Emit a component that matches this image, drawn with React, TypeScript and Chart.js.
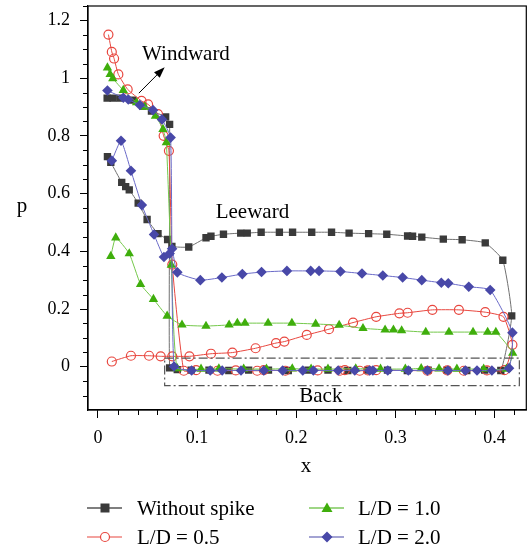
import React, { useEffect, useRef } from 'react';
import { Chart, registerables } from 'chart.js';

Chart.register(...registerables);

const FONT = '"Liberation Serif", "Times New Roman", serif';

const seriesNames = ['Without spike', 'L/D = 0.5', 'L/D = 1.0', 'L/D = 2.0'];
const xTicks = [0, 0.1, 0.2, 0.3, 0.4];
const yTicks = [0, 0.2, 0.4, 0.6, 0.8, 1.0, 1.2];

// Without spike: lower-left -> leeward -> back -> windward
const noSpikeX = [
  0.0096, 0.013, 0.024, 0.028, 0.0316, 0.0406, 0.0496, 0.0606, 0.0703, 0.0746,
  0.0916, 0.109, 0.114, 0.1266, 0.144, 0.1506, 0.1646, 0.183, 0.1963, 0.2156, 0.2356, 0.2533, 0.273, 0.2913, 0.3123, 0.3173, 0.3266, 0.3483, 0.3673, 0.3906, 0.4083, 0.4173,
  0.4063, 0.39, 0.372, 0.352, 0.333, 0.312, 0.292, 0.272, 0.252, 0.232, 0.212, 0.192, 0.172, 0.152, 0.132, 0.112, 0.094, 0.08,
  0.0723, 0.0723, 0.0683, 0.054, 0.0453, 0.0353, 0.0223, 0.0153, 0.0093,
];
const noSpikeP = [
  0.728, 0.708, 0.639, 0.624, 0.613, 0.567, 0.51, 0.461, 0.441, 0.417,
  0.415, 0.447, 0.452, 0.459, 0.463, 0.463, 0.466, 0.466, 0.466, 0.466, 0.466, 0.463, 0.461, 0.459, 0.453, 0.452, 0.449, 0.442, 0.44, 0.429, 0.369, 0.176,
  -0.013, -0.012, -0.013, -0.012, -0.012, -0.013, -0.012, -0.012, -0.013, -0.012, -0.012, -0.013, -0.012, -0.012, -0.013, -0.012, -0.012, -0.01,
  -0.004, 0.84, 0.866, 0.886, 0.903, 0.924, 0.931, 0.931, 0.931,
];

// L/D = 0.5: windward -> back -> leeward(low curve)
const ld05X = [
  0.0106, 0.014, 0.0163, 0.0206, 0.03, 0.044, 0.0506, 0.0606, 0.0663, 0.0716,
  0.075,
  0.0866, 0.099, 0.1206, 0.139, 0.1606, 0.1673, 0.189, 0.2216, 0.244, 0.249, 0.264, 0.2723, 0.2806, 0.3323, 0.3523, 0.369, 0.3923, 0.41,
  0.418, 0.409, 0.3906, 0.364, 0.3373, 0.3123, 0.304, 0.2806, 0.2573, 0.233, 0.2106, 0.188, 0.1796, 0.159, 0.1356, 0.114, 0.0923, 0.075, 0.0633, 0.0516, 0.0333, 0.014,
];
const ld05P = [
  1.151, 1.091, 1.068, 1.013, 0.961, 0.921, 0.909, 0.875, 0.8, 0.748,
  0.354,
  -0.014, -0.012, -0.014, -0.013, -0.014, -0.012, -0.014, -0.013, -0.014, -0.012, -0.014, -0.013, -0.012, -0.014, -0.013, -0.014, -0.013, -0.012,
  0.076, 0.173, 0.189, 0.197, 0.197, 0.187, 0.185, 0.173, 0.153, 0.13, 0.11, 0.087, 0.082, 0.064, 0.049, 0.045, 0.036, 0.036, 0.036, 0.038, 0.038, 0.018,
];

// L/D = 1.0: windward -> back -> leeward
const ld10X = [
  0.0096, 0.0123, 0.015, 0.0256, 0.039, 0.0473, 0.058, 0.0656, 0.069,
  0.074,
  0.08, 0.104, 0.122, 0.147, 0.17, 0.196, 0.215, 0.232, 0.26, 0.285, 0.31, 0.326, 0.344, 0.362, 0.389, 0.412,
  0.4183, 0.4013, 0.393, 0.3783, 0.354, 0.3306, 0.3063, 0.298, 0.2896, 0.2673, 0.2433, 0.2196, 0.1956, 0.1716, 0.1483, 0.1406, 0.1323, 0.109, 0.0848, 0.0698, 0.056, 0.043, 0.0316, 0.018, 0.013,
];
const ld10P = [
  1.036, 1.013, 0.999, 0.958, 0.915, 0.9, 0.869, 0.823, 0.777,
  0.352,
  -0.006, -0.008, -0.007, -0.008, -0.008, -0.007, -0.008, -0.008, -0.007, -0.008, -0.008, -0.006, -0.007, -0.008, -0.008, -0.008,
  0.047, 0.12, 0.12, 0.12, 0.12, 0.12, 0.125, 0.128, 0.128, 0.133, 0.144, 0.148, 0.151, 0.151, 0.151, 0.151, 0.145, 0.141, 0.145, 0.176, 0.234, 0.286, 0.392, 0.447, 0.383,
];

// L/D = 2.0: lower-left -> leeward -> back -> windward
const ld20X = [
  0.014, 0.0233, 0.0333, 0.0443, 0.0566, 0.0666, 0.0723, 0.0748,
  0.0801, 0.1033, 0.125, 0.1456, 0.165, 0.1906, 0.2146, 0.223, 0.2446, 0.2663, 0.2873, 0.3073, 0.3266, 0.3463, 0.3533, 0.374, 0.3956, 0.418,
  0.4146, 0.3973, 0.3823, 0.3706, 0.353, 0.3323, 0.313, 0.2923, 0.2773, 0.274, 0.259, 0.2423, 0.2173, 0.2066, 0.1863, 0.1673, 0.1443, 0.1253, 0.1133, 0.0945, 0.0768,
  0.0733, 0.0646, 0.0556, 0.0423, 0.0306, 0.0256, 0.0096,
];
const ld20P = [
  0.714, 0.783, 0.679, 0.56, 0.458, 0.38, 0.392, 0.409,
  0.327, 0.3, 0.309, 0.321, 0.328, 0.332, 0.332, 0.332, 0.33, 0.323, 0.316, 0.309, 0.3, 0.291, 0.289, 0.277, 0.266, 0.118,
  -0.005, -0.013, -0.013, -0.013, -0.013, -0.013, -0.013, -0.013, -0.013, -0.013, -0.013, -0.013, -0.013, -0.013, -0.013, -0.013, -0.013, -0.013, -0.013, -0.013, 0.001,
  0.794, 0.857, 0.889, 0.907, 0.926, 0.932, 0.957,
];

const lineColors = ['#707070', '#e8473f', '#74c84a', '#6a6ac8'];
const markColors = ['#3a3a3a', '#e8473f', '#3fae0c', '#4848a8'];
const markStyles = ['rect', 'circle', 'triangle', 'rectRot'];
const markRadius = [5.2, 4.5, 5.4, 5.3];

function toPoints(xs: number[], ps: number[]) {
  return xs.map((x, i) => ({ x, y: ps[i] }));
}

function fmt(v: number) {
  return String(Math.round(v * 100) / 100);
}

function drawMarker(ctx: CanvasRenderingContext2D, i: number, x: number, y: number) {
  ctx.save();
  ctx.fillStyle = markColors[i];
  ctx.strokeStyle = markColors[i];
  ctx.lineWidth = 1.2;
  ctx.beginPath();
  if (i === 0) {
    ctx.rect(x - 4.5, y - 4.5, 9, 9);
    ctx.fill();
  } else if (i === 1) {
    ctx.fillStyle = '#fff';
    ctx.arc(x, y, 4.5, 0, Math.PI * 2);
    ctx.fill();
    ctx.stroke();
  } else if (i === 2) {
    ctx.moveTo(x, y - 5.5);
    ctx.lineTo(x + 5.5, y + 4);
    ctx.lineTo(x - 5.5, y + 4);
    ctx.closePath();
    ctx.fill();
  } else {
    ctx.moveTo(x, y - 5.5);
    ctx.lineTo(x + 5.5, y);
    ctx.lineTo(x, y + 5.5);
    ctx.lineTo(x - 5.5, y);
    ctx.closePath();
    ctx.fill();
  }
  ctx.restore();
}

const overlay = {
  id: 'overlay',
  afterDraw(chart: any) {
    const { ctx, chartArea: a, scales } = chart;
    const xs = scales.x;
    const ys = scales.y;
    ctx.save();
    // frame
    ctx.strokeStyle = '#000';
    ctx.lineWidth = 1.2;
    ctx.setLineDash([]);
    ctx.strokeRect(a.left, a.top, a.right - a.left, a.bottom - a.top);
    // minor ticks
    ctx.lineWidth = 1;
    ctx.beginPath();
    for (let k = 0; k <= 21; k++) {
      if (k % 5 === 0) continue;
      const px = Math.round(xs.getPixelForValue(k * 0.02)) + 0.5;
      if (px > a.right) continue;
      ctx.moveTo(px, a.bottom);
      ctx.lineTo(px, a.bottom + 5);
    }
    for (let k = -3; k <= 25; k++) {
      if (k % 4 === 0) continue;
      const py = Math.round(ys.getPixelForValue(k * 0.05)) + 0.5;
      if (py < a.top || py > a.bottom) continue;
      ctx.moveTo(a.left, py);
      ctx.lineTo(a.left - 5, py);
    }
    ctx.stroke();

    // dash-dot box around "Back" region
    const bx0 = xs.getPixelForValue(0.0673);
    const bx1 = xs.getPixelForValue(0.425);
    const by0 = ys.getPixelForValue(0.03);
    const by1 = ys.getPixelForValue(-0.0655);
    ctx.strokeStyle = '#555';
    ctx.lineWidth = 1.2;
    ctx.setLineDash([9, 3, 2, 3]);
    ctx.strokeRect(bx0, by0, bx1 - bx0, by1 - by0);
    ctx.setLineDash([]);

    // annotations
    ctx.fillStyle = '#000';
    ctx.font = '21px ' + FONT;
    ctx.textAlign = 'center';
    ctx.textBaseline = 'middle';
    ctx.fillText('Windward', xs.getPixelForValue(0.0888), ys.getPixelForValue(1.083));
    ctx.fillText('Leeward', xs.getPixelForValue(0.1558), ys.getPixelForValue(0.534));
    ctx.fillText('Back', xs.getPixelForValue(0.2248), ys.getPixelForValue(-0.103));

    // arrow
    const ax0 = xs.getPixelForValue(0.0413);
    const ay0 = ys.getPixelForValue(0.948);
    const ax1 = xs.getPixelForValue(0.0673);
    const ay1 = ys.getPixelForValue(1.038);
    const ang = Math.atan2(ay1 - ay0, ax1 - ax0);
    ctx.strokeStyle = '#000';
    ctx.lineWidth = 1;
    ctx.beginPath();
    ctx.moveTo(ax0, ay0);
    ctx.lineTo(ax1 - 6 * Math.cos(ang), ay1 - 6 * Math.sin(ang));
    ctx.stroke();
    ctx.beginPath();
    ctx.moveTo(ax1, ay1);
    ctx.lineTo(ax1 - 11 * Math.cos(ang) + 4 * Math.sin(ang), ay1 - 11 * Math.sin(ang) - 4 * Math.cos(ang));
    ctx.lineTo(ax1 - 11 * Math.cos(ang) - 4 * Math.sin(ang), ay1 - 11 * Math.sin(ang) + 4 * Math.cos(ang));
    ctx.closePath();
    ctx.fill();

    // axis titles
    ctx.font = '21px ' + FONT;
    ctx.fillText('x', 306, 466);
    ctx.fillText('p', 22, 206);

    // legend
    const rows = [508, 537];
    const cols = [
      { line: 87, mark: 105, text: 137 },
      { line: 309, mark: 327, text: 358 },
    ];
    const slots = [
      [0, 0],
      [1, 0],
      [0, 1],
      [1, 1],
    ];
    ctx.textAlign = 'left';
    for (let i = 0; i < 4; i++) {
      const c = cols[slots[i][1]];
      const y = rows[slots[i][0]];
      ctx.strokeStyle = i === 0 ? '#000' : markColors[i];
      ctx.lineWidth = 1.2;
      ctx.beginPath();
      ctx.moveTo(c.line, y);
      ctx.lineTo(c.line + 35, y);
      ctx.stroke();
      drawMarker(ctx, i, c.mark, y);
      ctx.fillStyle = '#000';
      ctx.fillText(seriesNames[i], c.text, y + 1);
    }
    ctx.restore();
  },
};

export default function App() {
  const ref = useRef<HTMLCanvasElement>(null);
  useEffect(() => {
    const all = [
      toPoints(noSpikeX, noSpikeP),
      toPoints(ld05X, ld05P),
      toPoints(ld10X, ld10P),
      toPoints(ld20X, ld20P),
    ];
    const orders = [3, 2, 1, 0];
    const chart = new Chart(ref.current as HTMLCanvasElement, {
      type: 'scatter',
      data: {
        datasets: all.map((pts, i) => ({
          label: seriesNames[i],
          data: pts,
          showLine: true,
          tension: 0.15,
          borderColor: lineColors[i],
          borderWidth: 1,
          pointStyle: markStyles[i] as any,
          pointRadius: markRadius[i],
          pointBackgroundColor: i === 1 ? 'rgba(0,0,0,0)' : markColors[i],
          pointBorderColor: markColors[i],
          pointBorderWidth: i === 1 ? 1.2 : 0,
          order: orders[i],
        })),
      },
      options: {
        responsive: false,
        devicePixelRatio: 1,
        animation: false,
        layout: { padding: { top: 6, right: 2, left: 0, bottom: 0 } },
        plugins: {
          legend: { display: false },
          tooltip: { enabled: false },
        },
        scales: {
          x: {
            type: 'linear',
            min: -0.01,
            max: 0.432,
            afterBuildTicks: (s: any) => {
              s.ticks = xTicks.map((v) => ({ value: v }));
            },
            afterFit: (s: any) => {
              s.height = 138;
              s.paddingLeft = 0;
              s.paddingRight = 0;
              s.paddingTop = 0;
              s.paddingBottom = 0;
            },
            ticks: {
              callback: (v: any) => fmt(Number(v)),
              font: { family: FONT, size: 18 },
              color: '#000',
              padding: 9,
              maxRotation: 0,
              autoSkip: false,
            },
            grid: {
              drawOnChartArea: false,
              drawTicks: true,
              tickLength: 8,
              color: '#000',
            },
            border: { display: true, color: '#000', width: 1.2 },
          },
          y: {
            type: 'linear',
            min: -0.15,
            max: 1.25,
            afterBuildTicks: (s: any) => {
              s.ticks = yTicks.map((v) => ({ value: v }));
            },
            afterFit: (s: any) => {
              s.width = 88;
              s.paddingTop = 0;
              s.paddingBottom = 0;
              s.paddingLeft = 0;
              s.paddingRight = 0;
            },
            ticks: {
              callback: (v: any) => fmt(Number(v)),
              font: { family: FONT, size: 18 },
              color: '#000',
              padding: 10,
              autoSkip: false,
            },
            grid: {
              drawOnChartArea: false,
              drawTicks: true,
              tickLength: 8,
              color: '#000',
            },
            border: { display: true, color: '#000', width: 1.2 },
          },
        },
      },
      plugins: [overlay],
    });
    return () => chart.destroy();
  }, []);
  return (
    <div style={{ position: 'absolute', left: 0, top: 0, width: 532, height: 548, background: '#fff' }}>
      <canvas ref={ref} width={532} height={548} style={{ display: 'block' }} />
    </div>
  );
}
